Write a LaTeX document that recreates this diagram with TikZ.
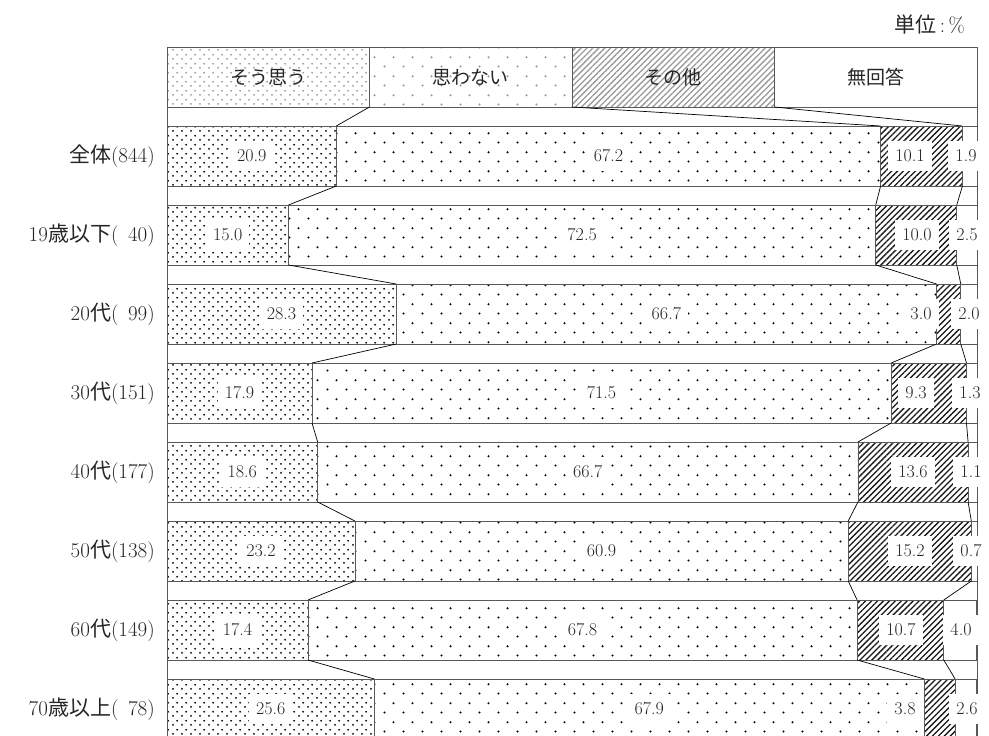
\documentclass[tikz,border=0pt]{standalone}
\usepackage{fontspec}
\newfontfamily\jp{Noto Sans CJK JP}
\usetikzlibrary{positioning,patterns.meta}
\pgfdeclarepattern{
  name=densedots, type=uncolored,
  bottom left={\pgfpointorigin}, top right={\pgfpoint{9pt}{9pt}},
  tile size={\pgfpoint{9pt}{9pt}},
  code={
    \pgfpathcircle{\pgfpoint{2.25pt}{2.25pt}}{1.1pt}
    \pgfpathcircle{\pgfpoint{6.75pt}{6.75pt}}{1.1pt}
    \pgfusepath{fill}
  }
}
\pgfdeclarepattern{
  name=sparsedots, type=uncolored,
  bottom left={\pgfpointorigin}, top right={\pgfpoint{19pt}{19pt}},
  tile size={\pgfpoint{19pt}{19pt}},
  code={
    \pgfpathcircle{\pgfpoint{4.75pt}{4.75pt}}{1.2pt}
    \pgfpathcircle{\pgfpoint{14.25pt}{14.25pt}}{1.2pt}
    \pgfusepath{fill}
  }
}
\tikzset{
  bar/.style={draw=black!65, line width=0.8pt, inner sep=0pt, outer sep=0pt,
    minimum height=60pt},
  pc/.style={minimum width={#1*8.1pt}},
  yes/.style={bar, pattern=densedots, pattern color=black},
  no/.style={bar, pattern=sparsedots, pattern color=black},
  other/.style={bar, pattern={Lines[angle=45,distance=4.2pt,line width=1.3pt]}, pattern color=black!90},
  none/.style={bar, fill=white},
  key/.style={pattern color=black!40, text=black!85, font=\fontsize{19}{19}\selectfont\jp},
  val/.style={fill=white, inner xsep=7pt, inner ysep=0pt, minimum height=30pt,
    text=black!85, font=\fontsize{18}{18}\selectfont},
  rowlab/.style={anchor=east, inner sep=0pt, text=black!85, font=\fontsize{21}{21}\selectfont},
  frame/.style={draw=black!65, line width=0.8pt},
  link/.style={draw=black, line width=0.7pt}
}
\begin{document}
\begin{tikzpicture}[x=1pt,y=-1pt]
  \useasboundingbox (0,0) rectangle (989,736);
  \clip (0,0) rectangle (989,736);
  \node[rowlab] (unit) at (965,25) {{\jp 単位}\,:\,\%};
  \node[yes, key, pc=25, anchor=north west] (r0a) at (167,47) {そう思う};
  \node[no, key, pc=25, right=0pt of r0a] (r0b) {思わない};
  \node[other, key, pc=25, right=0pt of r0b] (r0c) {その他};
  \node[none, key, pc=25, right=0pt of r0c] (r0d) {無回答};
  \draw[frame] (r0a.north west) -- ++(0,720);
  \draw[frame] (r0d.north east) -- ++(0,720);
  \node[yes, pc=20.9, anchor=north west] (r1a) at (167,126) {};
  \node[no, pc=67.2, right=0pt of r1a] (r1b) {};
  \node[other, pc=10.1, right=0pt of r1b] (r1c) {};
  \node[none, pc=1.9, right=0pt of r1c] (r1d) {};
  \node[yes, pc=15.0, anchor=north west] (r2a) at (167,205) {};
  \node[no, pc=72.5, right=0pt of r2a] (r2b) {};
  \node[other, pc=10.0, right=0pt of r2b] (r2c) {};
  \node[none, pc=2.5, right=0pt of r2c] (r2d) {};
  \node[yes, pc=28.3, anchor=north west] (r3a) at (167,284) {};
  \node[no, pc=66.7, right=0pt of r3a] (r3b) {};
  \node[other, pc=3.0, right=0pt of r3b] (r3c) {};
  \node[none, pc=2.0, right=0pt of r3c] (r3d) {};
  \node[yes, pc=17.9, anchor=north west] (r4a) at (167,363) {};
  \node[no, pc=71.5, right=0pt of r4a] (r4b) {};
  \node[other, pc=9.3, right=0pt of r4b] (r4c) {};
  \node[none, pc=1.3, right=0pt of r4c] (r4d) {};
  \node[yes, pc=18.6, anchor=north west] (r5a) at (167,442) {};
  \node[no, pc=66.7, right=0pt of r5a] (r5b) {};
  \node[other, pc=13.6, right=0pt of r5b] (r5c) {};
  \node[none, pc=1.1, right=0pt of r5c] (r5d) {};
  \node[yes, pc=23.2, anchor=north west] (r6a) at (167,521) {};
  \node[no, pc=60.9, right=0pt of r6a] (r6b) {};
  \node[other, pc=15.2, right=0pt of r6b] (r6c) {};
  \node[none, pc=0.7, right=0pt of r6c] (r6d) {};
  \node[yes, pc=17.4, anchor=north west] (r7a) at (167,600) {};
  \node[no, pc=67.8, right=0pt of r7a] (r7b) {};
  \node[other, pc=10.7, right=0pt of r7b] (r7c) {};
  \node[none, pc=4.0, right=0pt of r7c] (r7d) {};
  \node[yes, pc=25.6, anchor=north west] (r8a) at (167,679) {};
  \node[no, pc=67.9, right=0pt of r8a] (r8b) {};
  \node[other, pc=3.8, right=0pt of r8b] (r8c) {};
  \node[none, pc=2.6, right=0pt of r8c] (r8d) {};
  \begin{scope}[link]
    \draw (r0a.south east) -- (r1a.north east);
    \draw (r0b.south east) -- (r1b.north east);
    \draw (r0c.south east) -- (r1c.north east);
    \draw (r1a.south east) -- (r2a.north east);
    \draw (r1b.south east) -- (r2b.north east);
    \draw (r1c.south east) -- (r2c.north east);
    \draw (r2a.south east) -- (r3a.north east);
    \draw (r2b.south east) -- (r3b.north east);
    \draw (r2c.south east) -- (r3c.north east);
    \draw (r3a.south east) -- (r4a.north east);
    \draw (r3b.south east) -- (r4b.north east);
    \draw (r3c.south east) -- (r4c.north east);
    \draw (r4a.south east) -- (r5a.north east);
    \draw (r4b.south east) -- (r5b.north east);
    \draw (r4c.south east) -- (r5c.north east);
    \draw (r5a.south east) -- (r6a.north east);
    \draw (r5b.south east) -- (r6b.north east);
    \draw (r5c.south east) -- (r6c.north east);
    \draw (r6a.south east) -- (r7a.north east);
    \draw (r6b.south east) -- (r7b.north east);
    \draw (r6c.south east) -- (r7c.north east);
    \draw (r7a.south east) -- (r8a.north east);
    \draw (r7b.south east) -- (r8b.north east);
    \draw (r7c.south east) -- (r8c.north east);
  \end{scope}
  \node[rowlab] (n1) at (155,156) {{\jp 全体}(844)};
  \node[rowlab] (n2) at (155,235) {19{\jp 歳以下}(\hphantom{0}40)};
  \node[rowlab] (n3) at (155,314) {20{\jp 代}(\hphantom{0}99)};
  \node[rowlab] (n4) at (155,393) {30{\jp 代}(151)};
  \node[rowlab] (n5) at (155,472) {40{\jp 代}(177)};
  \node[rowlab] (n6) at (155,551) {50{\jp 代}(138)};
  \node[rowlab] (n7) at (155,630) {60{\jp 代}(149)};
  \node[rowlab] (n8) at (155,709) {70{\jp 歳以上}(\hphantom{0}78)};
  \node[val] (v1a) at (r1a) {20.9};
  \node[val] (v1b) at (r1b) {67.2};
  \node[val] (v1c) at (910,156) {10.1};
  \node[val] (v1d) at (966,156) {1.9};
  \node[val] (v2a) at (r2a) {15.0};
  \node[val] (v2b) at (r2b) {72.5};
  \node[val] (v2c) at (917,235) {10.0};
  \node[val] (v2d) at (967,235) {2.5};
  \node[val] (v3a) at (r3a) {28.3};
  \node[val] (v3b) at (r3b) {66.7};
  \node[val] (v3c) at (921,314) {3.0};
  \node[val] (v3d) at (969,314) {2.0};
  \node[val] (v4a) at (r4a) {17.9};
  \node[val] (v4b) at (r4b) {71.5};
  \node[val] (v4c) at (916,393) {9.3};
  \node[val] (v4d) at (970,393) {1.3};
  \node[val] (v5a) at (r5a) {18.6};
  \node[val] (v5b) at (r5b) {66.7};
  \node[val] (v5c) at (913,472) {13.6};
  \node[val] (v5d) at (971,472) {1.1};
  \node[val] (v6a) at (r6a) {23.2};
  \node[val] (v6b) at (r6b) {60.9};
  \node[val] (v6c) at (910,551) {15.2};
  \node[val] (v6d) at (971,551) {0.7};
  \node[val] (v7a) at (r7a) {17.4};
  \node[val] (v7b) at (r7b) {67.8};
  \node[val] (v7c) at (901,630) {10.7};
  \node[val] (v7d) at (961,630) {4.0};
  \node[val] (v8a) at (r8a) {25.6};
  \node[val] (v8b) at (r8b) {67.9};
  \node[val] (v8c) at (905,709) {3.8};
  \node[val] (v8d) at (967,709) {2.6};
\end{tikzpicture}
\end{document}
